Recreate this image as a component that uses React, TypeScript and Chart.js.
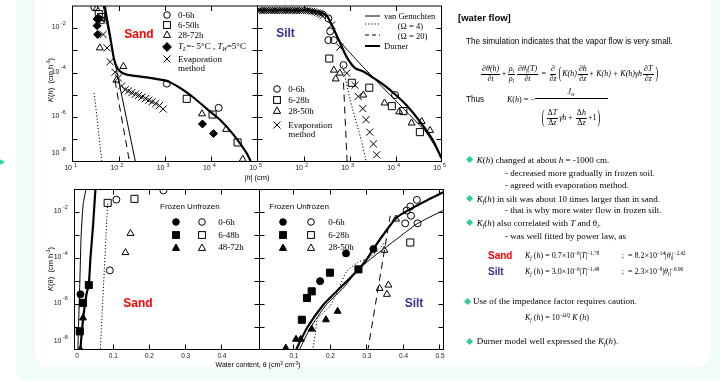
import React, { useEffect, useRef } from 'react';
import { Chart, registerables } from 'chart.js';
Chart.register(...registerables);

const W = 720;
const H = 382;
const SANS = '"Liberation Sans", Arial, sans-serif';
const SERIF = '"Liberation Serif", "Times New Roman", serif';
const RED = '#ff0000';
const BLUE = '#333399';
const GREEN = '#2fd08a';

// ---------- Top-left: sand, K(h) vs |h| ----------
const hSandCircle = [[29.5, 8.9e-2], [42.7, 2.3e-2], [1096, 3.2e-5], [14450, 2.6e-6]];
const hSandSquare = [[37, 4.3e-2], [41.7, 3.2e-2], [2950, 6.6e-6], [10700, 1.3e-6], [37150, 7.2e-8]];
const hSandTriangle = [[33, 7.6e-2], [39, 1.3e-3], [126, 1.9e-4], [89, 4.6e-5], [6310, 1.4e-6], [20900, 2.8e-7], [47900, 1.26e-8]];
const hSandDiamond = [[34, 2.6e-2], [34, 1.3e-2], [35, 5.2e-3], [37, 2.8e-2], [6460, 4.9e-7], [11200, 1.8e-7]];
const hSandEvap = [[43.6, 2.3e-2], [46, 5.2e-3], [56, 1.3e-3], [65, 3.1e-4], [83, 1.05e-4], [98, 5.8e-5], [115, 2.5e-5], [138, 1.7e-5], [162, 1.5e-5], [191, 1.25e-5], [229, 1.07e-5], [269, 9.4e-6], [316, 7.9e-6], [380, 6.8e-6], [447, 5.7e-6], [525, 4.9e-6], [631, 4.1e-6], [759, 3.3e-6], [912, 2.3e-6]];
const hSandDurner = [[49, 1.2e-1], [64.6, 4.7e-3], [78.5, 4.3e-4], [91, 1.74e-4], [112, 1.05e-4], [151, 8.1e-5], [224, 7.1e-5], [468, 5.8e-5], [1096, 4.2e-5], [2089, 2.1e-5], [4074, 7.8e-6], [7943, 2.4e-6], [15490, 7.6e-7], [29510, 1.7e-7], [58880, 2.3e-8], [79430, 6.3e-9]];
const hSandVG = [[46, 1.05e-1], [234, 7.9e-9]];
const hSandOmega20 = [[83, 4.2e-5], [174, 7.9e-9]];
const hSandOmega4 = [[29.5, 1.2e-5], [43.6, 7.9e-9]];

// ---------- Top-right: silt, K(h) vs |h| ----------
const hSiltCircle = [[347, 2.75e-2], [380, 7.2e-3], [347, 2.9e-3], [457, 2.9e-3], [741, 2.2e-4], [9772, 9.8e-6]];
const hSiltSquare = [[363, 4.3e-4], [1122, 3.5e-5], [2692, 2.1e-5], [8318, 3.1e-6], [14790, 1.86e-6], [33880, 2.1e-7]];
const hSiltTriangle = [[457, 1.3e-4], [617, 9.5e-5], [501, 5.2e-5], [1995, 9.8e-6], [5754, 4.3e-6], [12020, 1.74e-6], [22390, 5.4e-7], [37150, 6.3e-7], [56230, 2.5e-7]];
const hSiltEvapBand = [[10.5, 6.2e-2], [11.5, 6.4e-2], [12.6, 6.1e-2], [13.8, 6.3e-2], [15.1, 6.2e-2], [16.6, 6.4e-2], [18.2, 6.1e-2], [20, 6.3e-2], [22, 6.2e-2], [24, 6.4e-2], [26.3, 6.1e-2], [28.8, 6.3e-2], [31.6, 6.2e-2], [34.7, 6.4e-2], [38, 6.1e-2], [41.7, 6.3e-2], [45.7, 6.2e-2], [50, 6.4e-2], [55, 6.1e-2], [60, 6.3e-2], [66, 6.2e-2], [72, 6.4e-2], [79, 6.1e-2], [87, 6.3e-2], [95, 6.2e-2], [105, 6.3e-2], [115, 6.1e-2], [126, 6.2e-2], [138, 6.0e-2], [151, 5.8e-2], [166, 5.6e-2], [182, 5.3e-2], [200, 5.0e-2], [220, 4.6e-2], [240, 4.1e-2], [262, 3.6e-2]];
const hSiltEvap = [[407, 1.4e-2], [617, 1.4e-3], [871, 9.5e-5], [1318, 2.7e-5], [1549, 8.5e-6], [1950, 2.4e-6], [2291, 7.6e-7], [2754, 2.1e-7], [3311, 6.2e-8], [3890, 2.0e-8]];
const hSiltDurner = [[10, 6.3e-2], [126, 6.3e-2], [224, 5.4e-2], [324, 3.5e-2], [447, 1.0e-2], [617, 2.3e-3], [871, 5.0e-4], [1318, 1.6e-4], [1995, 1.12e-4], [3311, 5.8e-5], [5370, 2.95e-5], [9772, 1.07e-5], [17380, 3.4e-6], [33880, 6.3e-7], [66070, 8.5e-8], [100000, 1.38e-8]];
const hSiltVG = [[200, 6.0e-2], [295, 5.4e-2], [617, 2.7e-3], [1445, 3.6e-4], [5370, 2.1e-5], [17380, 1.74e-6], [46770, 2.0e-7], [100000, 1.6e-8]];
const hSiltOmega4 = [[708, 2.0e-4], [1023, 6.6e-6], [1445, 4.6e-7], [1820, 8.5e-8], [2188, 1.6e-8], [2344, 7.9e-9]];
const hSiltOmega20 = [[741, 3.5e-5], [891, 7.9e-9]];

// ---------- Bottom-left: sand, K(theta) ----------
const tSandFrozenCircle = [[0.011, 2.6e-6]];
const tSandFrozenSquare = [[0.034, 6.6e-6], [0.018, 1.1e-6], [0.009, 6.2e-8]];
const tSandFrozenTriangle = [[0.018, 2.4e-7], [0.011, 1.0e-8]];
const tSandCircle = [[0.110, 3.6e-2], [0.24, 9.1e-2], [0.092, 2.9e-5]];
const tSandSquare = [[0.086, 2.6e-2], [0.16, 3.9e-2]];
const tSandTriangle = [[0.149, 1.2e-3], [0.135, 1.74e-4]];
const tSandThin = [[0.0036, 7.9e-9], [0.0063, 2.4e-7], [0.009, 7.1e-6], [0.013, 1.1e-3], [0.0185, 2.3e-2], [0.0275, 1.3e-1]];
const tSandThick = [[0.0105, 7.9e-9], [0.011, 1.15e-8], [0.0185, 2.4e-7], [0.0275, 2.6e-6], [0.034, 7.1e-6], [0.0386, 1.05e-4], [0.046, 3.1e-3], [0.052, 9.1e-2], [0.054, 1.6e-1]];
const tSandOmega4 = [[0.0655, 7.9e-9], [0.086, 2.8e-2]];

// ---------- Bottom-right: silt, K(theta) ----------
const tSiltFrozenCircle = [[0.244, 1.6e-4], [0.173, 9.8e-6], [0.319, 2.5e-4]];
const tSiltFrozenSquare = [[0.2, 2.3e-5], [0.150, 3.5e-6], [0.137, 1.8e-6], [0.123, 2.0e-7], [0.278, 3.2e-5]];
const tSiltFrozenTriangle = [[0.079, 1.15e-8], [0.107, 2.8e-8], [0.12, 2.8e-8], [0.150, 7.8e-8], [0.189, 2.0e-7], [0.221, 4.7e-7]];
const tSiltCircle = [[0.438, 3.5e-2], [0.42, 1.8e-2], [0.406, 3.3e-3], [0.44, 3.3e-3], [0.422, 7.1e-3], [0.41, 1.2e-2]];
const tSiltSquare = [[0.42, 4.8e-4]];
const tSiltTriangle = [[0.349, 2.2e-4], [0.36, 6.6e-6], [0.356, 2.6e-6], [0.336, 4.7e-6], [0.381, 5.1e-3]];
const tSiltThick = [[0.107, 9.5e-9], [0.137, 8.7e-8], [0.182, 9.1e-7], [0.228, 5.0e-6], [0.278, 3.2e-5], [0.301, 8.9e-5], [0.319, 2.5e-4], [0.347, 1.1e-3], [0.383, 6.0e-3], [0.429, 1.66e-2], [0.474, 3.9e-2], [0.511, 7.8e-2]];
const tSiltThin = [[0.116, 9.5e-9], [0.146, 8.7e-8], [0.19, 9.1e-7], [0.237, 5.0e-6], [0.278, 3.2e-5], [0.328, 1.48e-4], [0.383, 6.8e-4], [0.438, 3.1e-3], [0.509, 1.2e-2]];
const tSiltOmega4 = [[0.152, 8.9e-9], [0.160, 5.0e-8], [0.166, 2.2e-7], [0.20, 7.9e-7], [0.225, 5.0e-6], [0.245, 2.5e-5], [0.275, 6.3e-5], [0.31, 1.12e-4], [0.335, 2.5e-4], [0.35, 5.0e-4]];
const tSiltOmega20 = [[0.303, 7.9e-9], [0.365, 7.1e-3]];

// ---------- axes ----------
const yDecadeTicks = [1e-7, 1e-6, 1e-5, 1e-4, 1e-3, 1e-2];
const yTickExponents = [-2, -4, -6, -8];
const hTicks = [100, 1000, 10000];
const hSandLabels = [10, 100, 1000, 10000, 100000];
const hSiltLabels = [100, 1000, 10000, 100000];
const thetaSandTicks = [0.1, 0.2, 0.3, 0.4];
const thetaSandLabels = [0, 0.1, 0.2, 0.3, 0.4];
const thetaSiltTicks = [0.1, 0.2, 0.3, 0.4, 0.5];
const thetaSiltLabels = [0.1, 0.2, 0.3, 0.4, 0.5];

const pts = (arr: number[][]) => arr.map(([x, y]) => ({ x, y }));
const lineDS = (arr: number[][], width: number, dash: number[] = []) => ({
  data: pts(arr), showLine: true, borderColor: '#000', borderWidth: width, borderDash: dash,
  pointRadius: 0, tension: 0.2, fill: false,
});
const markDS = (arr: number[][], style: string, filled: boolean, r: number) => ({
  data: pts(arr), showLine: false, pointStyle: style, pointRadius: r,
  backgroundColor: filled ? '#000' : 'rgba(0,0,0,0)', borderColor: '#000', borderWidth: 1,
});

const framePlugin = {
  id: 'frame',
  afterDatasetsDraw(chart: any, _a: any, o: any) {
    const { ctx, chartArea: a } = chart;
    const xs = chart.scales.x;
    const ys = chart.scales.y;
    ctx.save();
    ctx.strokeStyle = '#000';
    ctx.lineWidth = 1;
    ctx.strokeRect(a.left, a.top, a.right - a.left, a.bottom - a.top);
    ctx.beginPath();
    for (const v of o.yTicks) {
      const p = Math.round(ys.getPixelForValue(v)) + 0.5;
      ctx.moveTo(a.left, p); ctx.lineTo(a.left + 5, p);
      ctx.moveTo(a.right, p); ctx.lineTo(a.right - 5, p);
    }
    for (const v of o.xTicks) {
      const p = Math.round(xs.getPixelForValue(v)) + 0.5;
      ctx.moveTo(p, a.bottom); ctx.lineTo(p, a.bottom - 5);
      ctx.moveTo(p, a.top); ctx.lineTo(p, a.top + 5);
    }
    ctx.stroke();
    ctx.fillStyle = '#222';
    ctx.textBaseline = 'middle';
    for (const e of o.yLabels) {
      const p = Math.min(ys.getPixelForValue(Math.pow(10, e)) - 1, a.bottom - 8);
      ctx.font = `7px ${SANS}`;
      ctx.textAlign = 'right';
      ctx.fillText('10', a.left - 13, p);
      ctx.font = `5.5px ${SANS}`;
      ctx.textAlign = 'left';
      ctx.fillText(String(e), a.left - 11.5, p - 4);
    }
    for (const v of o.xLabels) {
      const p = xs.getPixelForValue(v);
      if (o.xLog) {
        ctx.font = `7px ${SANS}`;
        ctx.textAlign = 'right';
        ctx.fillText('10', p - 0.5, a.bottom + 7);
        ctx.font = `5.5px ${SANS}`;
        ctx.textAlign = 'left';
        ctx.fillText(String(Math.round(Math.log10(v))), p + 1.5, a.bottom + 4);
      } else {
        ctx.font = `6.5px ${SANS}`;
        ctx.textAlign = 'center';
        ctx.fillText(String(v), p + 0.5, a.bottom + 6.5);
      }
    }
    ctx.restore();
  },
};

type Spec = {
  area: number[]; xLog: boolean; xMin: number; xMax: number; datasets: any[];
  xTicks: number[]; xLabels: number[]; yLabels: number[];
};

const specs: Spec[] = [
  {
    area: [72.5, 0.5, 257.5, 161.5], xLog: true, xMin: 10, xMax: 1e5,
    xTicks: hTicks, xLabels: hSandLabels, yLabels: yTickExponents,
    datasets: [
      lineDS(hSandDurner, 2.2), lineDS(hSandVG, 1), lineDS(hSandOmega20, 1, [7, 5]), lineDS(hSandOmega4, 1, [1.2, 2]),
      markDS(hSandCircle, 'circle', false, 3.5), markDS(hSandSquare, 'rect', false, 5),
      markDS(hSandTriangle, 'triangle', false, 4), markDS(hSandDiamond, 'rectRot', true, 4),
      markDS(hSandEvap, 'crossRot', false, 5),
    ],
  },
  {
    area: [257.5, 0.5, 441.5, 161.5], xLog: true, xMin: 10, xMax: 1e5,
    xTicks: hTicks, xLabels: hSiltLabels, yLabels: [],
    datasets: [
      lineDS(hSiltDurner, 2.2), lineDS(hSiltVG, 1), lineDS(hSiltOmega20, 1, [7, 5]), lineDS(hSiltOmega4, 1, [1.2, 2]),
      markDS(hSiltEvapBand, 'crossRot', false, 4.5),
      markDS(hSiltCircle, 'circle', false, 3.5), markDS(hSiltSquare, 'rect', false, 5),
      markDS(hSiltTriangle, 'triangle', false, 4), markDS(hSiltEvap, 'crossRot', false, 5),
    ],
  },
  {
    area: [74.5, 189.5, 259.5, 349.5], xLog: false, xMin: -0.0055, xMax: 0.505,
    xTicks: thetaSandTicks, xLabels: thetaSandLabels, yLabels: yTickExponents,
    datasets: [
      lineDS(tSandThick, 2.2), lineDS(tSandThin, 1), lineDS(tSandOmega4, 1, [1.2, 2]),
      markDS(tSandFrozenCircle, 'circle', true, 3.5), markDS(tSandFrozenSquare, 'rect', true, 5),
      markDS(tSandFrozenTriangle, 'triangle', true, 4),
      markDS(tSandCircle, 'circle', false, 3.5), markDS(tSandSquare, 'rect', false, 5),
      markDS(tSandTriangle, 'triangle', false, 4),
    ],
  },
  {
    area: [259.5, 189.5, 443.5, 349.5], xLog: false, xMin: 0.007, xMax: 0.511,
    xTicks: thetaSiltTicks, xLabels: thetaSiltLabels, yLabels: [],
    datasets: [
      lineDS(tSiltThick, 2.2), lineDS(tSiltThin, 1), lineDS(tSiltOmega20, 1, [7, 5]), lineDS(tSiltOmega4, 1, [1.2, 2]),
      markDS(tSiltFrozenCircle, 'circle', true, 3.5), markDS(tSiltFrozenSquare, 'rect', true, 5),
      markDS(tSiltFrozenTriangle, 'triangle', true, 4),
      markDS(tSiltCircle, 'circle', false, 3.5), markDS(tSiltSquare, 'rect', false, 5),
      markDS(tSiltTriangle, 'triangle', false, 4),
    ],
  },
];

function makeConfig(s: Spec): any {
  return {
    type: 'scatter',
    data: { datasets: s.datasets },
    options: {
      responsive: false,
      animation: false,
      events: [],
      layout: { padding: { left: s.area[0], top: s.area[1], right: W - s.area[2], bottom: H - s.area[3] } },
      plugins: {
        legend: { display: false },
        tooltip: { enabled: false },
        frame: { yTicks: yDecadeTicks, xTicks: s.xTicks, xLabels: s.xLabels, yLabels: s.yLabels, xLog: s.xLog },
      },
      scales: {
        x: { type: s.xLog ? 'logarithmic' : 'linear', min: s.xMin, max: s.xMax, display: false },
        y: { type: 'logarithmic', min: 1e-8, max: 1e-1, display: false },
      },
    },
    plugins: [framePlugin],
  };
}

// ---------- HTML helpers ----------
function Txt(p: any) {
  const { x, y, size, font = SANS, color = '#000', bold, italic, align = 'left', children, style } = p;
  const tx = align === 'center' ? 'translateX(-50%)' : align === 'right' ? 'translateX(-100%)' : undefined;
  return (
    <div style={{
      position: 'absolute', left: x, top: y - size * 0.6, fontSize: size, lineHeight: `${size * 1.2}px`,
      fontFamily: font, color, fontWeight: bold ? 'bold' : 'normal', fontStyle: italic ? 'italic' : 'normal',
      whiteSpace: 'nowrap', transform: tx, ...style,
    }}>{children}</div>
  );
}
const Sub = ({ children }: any) => <span style={{ fontSize: '0.65em', verticalAlign: '-0.3em', lineHeight: 0 }}>{children}</span>;
const Sup = ({ children }: any) => <span style={{ fontSize: '0.65em', verticalAlign: '0.55em', lineHeight: 0 }}>{children}</span>;
const I = ({ children }: any) => <i>{children}</i>;

function Frac({ n, d }: any) {
  return (
    <span style={{ display: 'inline-flex', flexDirection: 'column', alignItems: 'center', verticalAlign: 'middle', margin: '0 1px', lineHeight: 1.05 }}>
      <span style={{ borderBottom: '0.7px solid #000', padding: '0 1px' }}>{n}</span>
      <span>{d}</span>
    </span>
  );
}
const Big = ({ children, s = 2 }: any) => (
  <span style={{ display: 'inline-block', transform: `scaleY(${s})`, verticalAlign: 'middle', lineHeight: 1, fontStyle: 'normal', margin: '0 1px' }}>{children}</span>
);

function Mark({ x, y, shape, filled = false }: any) {
  const fill = filled ? '#000' : 'none';
  let el: any = null;
  if (shape === 'circle') el = <circle cx={6} cy={6} r={3.3} fill={fill} stroke="#000" strokeWidth={1} />;
  else if (shape === 'square') el = <rect x={2.6} y={2.6} width={6.8} height={6.8} fill={fill} stroke="#000" strokeWidth={1} />;
  else if (shape === 'triangle') el = <polygon points="6,2 9.6,8.4 2.4,8.4" fill={fill} stroke="#000" strokeWidth={1} />;
  else if (shape === 'diamond') el = <polygon points="6,1.6 10.4,6 6,10.4 1.6,6" fill={fill} stroke="#000" strokeWidth={1} />;
  else el = <g stroke="#000" strokeWidth={1}><line x1={2.5} y1={2.5} x2={9.5} y2={9.5} /><line x1={9.5} y1={2.5} x2={2.5} y2={9.5} /></g>;
  return <svg width={12} height={12} style={{ position: 'absolute', left: x - 6, top: y - 6, overflow: 'visible' }}>{el}</svg>;
}

function LegLine({ x1, x2, y, w, dash }: any) {
  return (
    <svg width={x2 - x1} height={6} style={{ position: 'absolute', left: x1, top: y - 3 }}>
      <line x1={0} y1={3} x2={x2 - x1} y2={3} stroke="#000" strokeWidth={w} strokeDasharray={dash} />
    </svg>
  );
}

function Bullet({ x, y }: any) {
  return <div style={{ position: 'absolute', left: x - 2.6, top: y - 2.6, width: 5.2, height: 5.2, background: GREEN, transform: 'rotate(45deg)' }} />;
}

export default function App() {
  const r0 = useRef<HTMLCanvasElement>(null);
  const r1 = useRef<HTMLCanvasElement>(null);
  const r2 = useRef<HTMLCanvasElement>(null);
  const r3 = useRef<HTMLCanvasElement>(null);
  const refs = [r0, r1, r2, r3];

  useEffect(() => {
    const charts = specs.map((s, i) => new Chart(refs[i].current as HTMLCanvasElement, makeConfig(s)));
    return () => charts.forEach((c) => c.destroy());
  }, []);

  const serif9 = { font: SERIF, size: 9 };

  return (
    <div style={{ position: 'absolute', left: 0, top: 0, width: W, height: H, overflow: 'hidden', background: '#fff' }}>
      <div style={{ position: 'absolute', left: 16, top: -30, width: 730, height: 410, borderRadius: 12, background: '#effcf7' }} />
      <div style={{ position: 'absolute', left: 35, top: -30, width: 675, height: 397, borderRadius: 14, background: '#fff' }} />
      <div style={{ position: 'absolute', left: -2, top: 158, width: 0, height: 0, borderTop: '4px solid transparent', borderBottom: '4px solid transparent', borderLeft: '7px solid #1fe08a' }} />

      {refs.map((r, i) => (
        <canvas key={i} ref={r} width={W} height={H} style={{ position: 'absolute', left: 0, top: 0 }} />
      ))}

      {/* axis titles */}
      <div style={{ position: 'absolute', left: 50, top: 80, transform: 'translate(-50%,-50%) rotate(-90deg)', fontFamily: SANS, fontSize: 7.5, whiteSpace: 'nowrap' }}>
        <I>K</I>(<I>h</I>)&nbsp; (cm h<Sup>-1</Sup>)
      </div>
      <div style={{ position: 'absolute', left: 50, top: 269, transform: 'translate(-50%,-50%) rotate(-90deg)', fontFamily: SANS, fontSize: 7.5, whiteSpace: 'nowrap' }}>
        <I>K</I>(θ)&nbsp; (cm h<Sup>-1</Sup>)
      </div>
      <Txt x={257} y={177} size={7.5} align="center">|<I>h</I>| (cm)</Txt>
      <Txt x={258} y={365} size={7} align="center">Water content, θ (cm<Sup>3</Sup> cm<Sup>-3</Sup>)</Txt>

      {/* top-left legend */}
      <Txt x={139} y={34} size={12} bold color={RED} align="center">Sand</Txt>
      <Mark x={166.5} y={15} shape="circle" />
      <Mark x={166.5} y={25} shape="square" />
      <Mark x={166.5} y={35} shape="triangle" />
      <Mark x={166.5} y={46.5} shape="diamond" filled />
      <Mark x={166.5} y={59} shape="cross" />
      <Txt x={178} y={15} {...serif9}>0-6h</Txt>
      <Txt x={178} y={25} {...serif9}>6-50h</Txt>
      <Txt x={178} y={35} {...serif9}>28-72h</Txt>
      <Txt x={178} y={46.5} {...serif9}><I>T</I><Sub><I>L</I></Sub>=- 5°C , <I>T</I><Sub><I>H</I></Sub>=5°C</Txt>
      <Txt x={178} y={59} {...serif9}>Evaporation</Txt>
      <Txt x={178} y={68.3} {...serif9}>method</Txt>

      {/* top-right legends */}
      <Txt x={285.5} y={33.3} size={12} bold color={BLUE} align="center">Silt</Txt>
      <LegLine x1={365} x2={380} y={16} w={1} />
      <LegLine x1={365} x2={380} y={24} w={1} dash="1.2 2" />
      <LegLine x1={365} x2={380} y={35} w={1} dash="4 3" />
      <LegLine x1={365} x2={380} y={46} w={2} />
      <Txt x={384} y={16} size={8.5} font={SERIF}>van Genuchten</Txt>
      <Txt x={397.7} y={26} size={8.5} font={SERIF}>(Ω = 4)</Txt>
      <Txt x={397.7} y={36} size={8.5} font={SERIF}>(Ω = 20)</Txt>
      <Txt x={384} y={46} size={8.5} font={SERIF}>Durner</Txt>
      <Mark x={276.7} y={89.3} shape="circle" />
      <Mark x={276.7} y={100} shape="square" />
      <Mark x={276.7} y={111} shape="triangle" />
      <Mark x={276.7} y={125} shape="cross" />
      <Txt x={288.3} y={89.3} {...serif9}>0-6h</Txt>
      <Txt x={288.3} y={100} {...serif9}>6-28h</Txt>
      <Txt x={288.3} y={111} {...serif9}>28-50h</Txt>
      <Txt x={288.3} y={125} {...serif9}>Evaporation</Txt>
      <Txt x={288.3} y={134} {...serif9}>method</Txt>

      {/* bottom-left legend */}
      <Txt x={160} y={206.7} size={8}>Frozen Unfrozen</Txt>
      <Mark x={175.7} y={222.3} shape="circle" filled />
      <Mark x={175.7} y={235} shape="square" filled />
      <Mark x={175.7} y={247.7} shape="triangle" filled />
      <Mark x={201.7} y={222.3} shape="circle" />
      <Mark x={201.7} y={235} shape="square" />
      <Mark x={201.7} y={247.7} shape="triangle" />
      <Txt x={218.3} y={222.3} {...serif9}>0-6h</Txt>
      <Txt x={218.3} y={235} {...serif9}>6-48h</Txt>
      <Txt x={218.3} y={247.7} {...serif9}>48-72h</Txt>
      <Txt x={138} y={303.3} size={12} bold color={RED} align="center">Sand</Txt>

      {/* bottom-right legend */}
      <Txt x={269.3} y={206.7} size={8}>Frozen Unfrozen</Txt>
      <Mark x={283.3} y={222.3} shape="circle" filled />
      <Mark x={283.3} y={235} shape="square" filled />
      <Mark x={283.3} y={247.7} shape="triangle" filled />
      <Mark x={310.7} y={222.3} shape="circle" />
      <Mark x={310.7} y={235} shape="square" />
      <Mark x={310.7} y={247.7} shape="triangle" />
      <Txt x={328.3} y={222.3} {...serif9}>0-6h</Txt>
      <Txt x={328.3} y={235} {...serif9}>6-28h</Txt>
      <Txt x={328.3} y={247.7} {...serif9}>28-50h</Txt>
      <Txt x={414} y={303.3} size={12} bold color={BLUE} align="center">Silt</Txt>

      {/* right text panel */}
      <Txt x={458} y={18} size={9.5} bold>[water flow]</Txt>
      <Txt x={466} y={41.7} size={8.2}>The simulation indicates that the vapor flow is very small.</Txt>
      <Txt x={480} y={70} size={8} font={SERIF} italic>
        <Frac n={<>∂θ(h)</>} d="∂t" />+<Frac n={<>ρ<Sub>i</Sub></>} d={<>ρ<Sub>l</Sub></>} /><Frac n={<>∂θ<Sub>i</Sub>(T)</>} d="∂t" /> = <Frac n="∂" d="∂z" />
        <Big>(</Big>K(h)<Frac n="∂h" d="∂z" />+ K(h) + K(h)γh<Frac n="∂T" d="∂z" /><Big>)</Big>
      </Txt>
      <Txt x={466} y={100} size={8.2}>Thus</Txt>
      <Txt x={507} y={100} size={8} font={SERIF}><I>K</I>(<I>h</I>) = −</Txt>
      <Txt x={571} y={91.5} size={8} font={SERIF} align="center"><I>J</I><Sub><I>w</I></Sub></Txt>
      <div style={{ position: 'absolute', left: 535, top: 98, width: 73, height: 0, borderTop: '0.8px solid #000' }} />
      <Txt x={571} y={114} size={8} font={SERIF} align="center">
        <Big s={2.4}>(</Big><Frac n={<>Δ<I>T</I></>} d={<>Δ<I>z</I></>} /><I>γh</I> + <Frac n={<>Δ<I>h</I></>} d={<>Δ<I>z</I></>} />+1<Big s={2.4}>)</Big>
      </Txt>

      <Bullet x={470} y={160} />
      <Txt x={476.7} y={160} {...serif9}><I>K</I>(<I>h</I>) changed at about <I>h</I> = -1000 cm.</Txt>
      <Txt x={505} y={173} {...serif9}>- decreased more gradually in frozen soil.</Txt>
      <Txt x={505} y={185.7} {...serif9}>- agreed with evaporation method.</Txt>
      <Bullet x={470} y={199} />
      <Txt x={476.7} y={199} {...serif9}><I>K</I><Sub><I>f</I></Sub>(<I>h</I>) in silt was about 10 times larger than in sand.</Txt>
      <Txt x={505} y={210.7} {...serif9}>- that is why more water flow in frozen silt.</Txt>
      <Bullet x={470} y={223} />
      <Txt x={476.7} y={223} {...serif9}><I>K</I><Sub><I>f</I></Sub>(<I>h</I>) also correlated with <I>T</I> and θ<Sub><I>i</I></Sub>.</Txt>
      <Txt x={505} y={236.7} {...serif9}>- was well fitted by power law, as</Txt>
      <Txt x={488} y={255.7} size={10} bold color={RED}>Sand</Txt>
      <Txt x={525} y={255.7} size={8} font={SERIF}><I>K</I><Sub><I>f</I></Sub> (<I>h</I>) = 0.7×10<Sup>−6</Sup>|<I>T</I>|<Sup>−1.78</Sup></Txt>
      <Txt x={621.7} y={255.7} size={8} font={SERIF}>;&nbsp; = 8.2×10<Sup>−14</Sup>|<I>θ<Sub>i</Sub></I>|<Sup>−2.42</Sup></Txt>
      <Txt x={488} y={272} size={10} bold color={BLUE}>Silt</Txt>
      <Txt x={525} y={272} size={8} font={SERIF}><I>K</I><Sub><I>f</I></Sub> (<I>h</I>) = 3.0×10<Sup>−6</Sup>|<I>T</I>|<Sup>−1.49</Sup></Txt>
      <Txt x={621.7} y={272} size={8} font={SERIF}>;&nbsp; = 2.3×10<Sup>−8</Sup>|<I>θ<Sub>i</Sub></I>|<Sup>−6.96</Sup></Txt>
      <Bullet x={468} y={301.7} />
      <Txt x={473} y={301.7} {...serif9}>Use of the impedance factor requires caution.</Txt>
      <Txt x={525} y={318} size={8} font={SERIF}><I>K</I><Sub><I>f</I></Sub> (<I>h</I>) = 10<Sup>−Ω<I>Q</I></Sup> <I>K</I> (<I>h</I>)</Txt>
      <Bullet x={470} y={341.7} />
      <Txt x={476.7} y={341.7} {...serif9}>Durner model well expressed the <I>K</I><Sub><I>f</I></Sub>(<I>h</I>).</Txt>
    </div>
  );
}
